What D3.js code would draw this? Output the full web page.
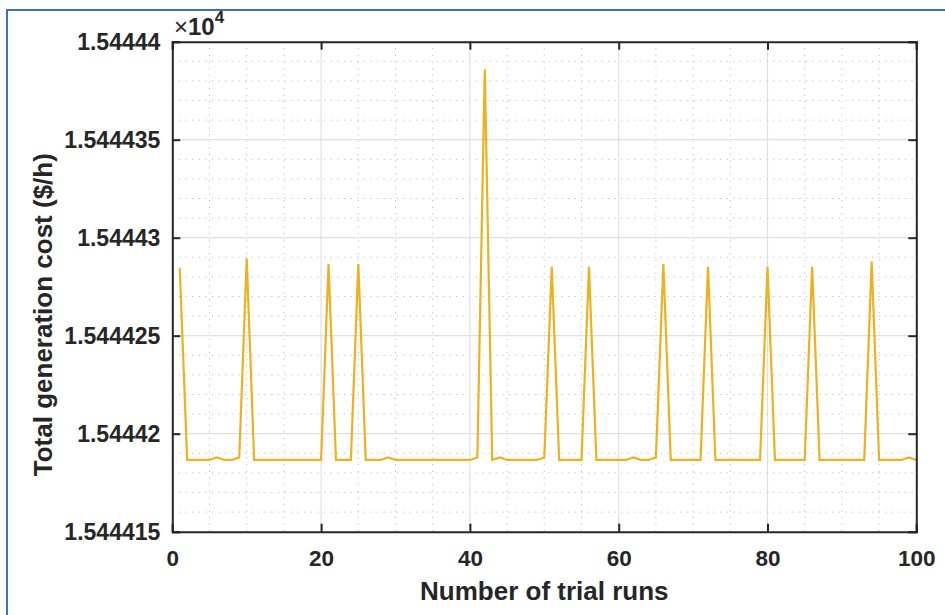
<!DOCTYPE html>
<html>
<head>
<meta charset="utf-8">
<script src="https://cdn.jsdelivr.net/npm/d3@7"></script>
<style>
  html, body { margin: 0; padding: 0; background: #fff; }
  svg { display: block; }
  text { font-family: "Liberation Sans", Arial, Helvetica, sans-serif; fill: #262626; }
</style>
</head>
<body>
<svg id="chart" width="945" height="615"></svg>
<script>
// ---- data ----
const trialRuns = d3.range(1, 101);
const B = 15444.1866, S = 15444.1879;
const costValues = [
  15444.2847, B, B, B, B, S, B, B, S, 15444.2895,          // 1-10
  B, B, B, B, B, B, B, B, B, B,                              // 11-20
  15444.2866, B, B, B, 15444.2866, B, B, B, S, B,           // 21-30
  B, B, B, B, B, B, B, B, B, B,                              // 31-40
  S, 15444.3859, B, S, B, B, B, B, B, S,                     // 41-50
  15444.2852, B, B, B, B, 15444.2852, B, B, B, B,           // 51-60
  B, S, B, B, S, 15444.2866, B, B, B, B,                     // 61-70
  B, 15444.2852, B, B, B, B, B, B, B, 15444.2852,           // 71-80
  B, B, B, B, B, 15444.2852, B, B, B, B,                     // 81-90
  B, B, B, 15444.2878, B, B, B, B, S, B                      // 91-100
];
const xTicks = [0, 20, 40, 60, 80, 100];
const yTicks = [15444.15, 15444.20, 15444.25, 15444.30, 15444.35, 15444.40];
const yTickLabels = ["1.544415", "1.54442", "1.544425", "1.54443", "1.544435", "1.54444"];
const xMinorTicks = d3.range(0, 101, 5);
const yMinorTicks = d3.range(0, 26).map(i => 15444.15 + i * 0.01);

// ---- layout ----
const svg = d3.select("#chart");
const L = 172.3, R = 916.3, T = 41.7, Bt = 531.7;
const x = d3.scaleLinear().domain([0, 100]).range([L, R]);
const y = d3.scaleLinear().domain([15444.15, 15444.40]).range([Bt, T]);

// outer frame (blue)
svg.append("rect").attr("x", 7).attr("y", 10).attr("width", 960).attr("height", 640)
  .attr("fill", "none").attr("stroke", "#3b73b6").attr("stroke-width", 2);

// minor grid
const g = svg.append("g");
g.selectAll(".mx").data(xMinorTicks.filter(v => v % 20 !== 0)).join("line")
  .attr("x1", d => x(d)).attr("x2", d => x(d)).attr("y1", T).attr("y2", Bt)
  .attr("stroke", "#bdbdbd").attr("stroke-width", 1).attr("stroke-dasharray", "1.2,5.4");
g.selectAll(".my").data(yMinorTicks.filter((v, i) => i % 5 !== 0)).join("line")
  .attr("y1", d => y(d)).attr("y2", d => y(d)).attr("x1", L).attr("x2", R)
  .attr("stroke", "#bdbdbd").attr("stroke-width", 1).attr("stroke-dasharray", "1.2,5.4");
// major grid
g.selectAll(".gx").data(xTicks.slice(1, -1)).join("line")
  .attr("x1", d => x(d)).attr("x2", d => x(d)).attr("y1", T).attr("y2", Bt)
  .attr("stroke", "#e0e0e0").attr("stroke-width", 1.2);
g.selectAll(".gy").data(yTicks.slice(1, -1)).join("line")
  .attr("y1", d => y(d)).attr("y2", d => y(d)).attr("x1", L).attr("x2", R)
  .attr("stroke", "#e0e0e0").attr("stroke-width", 1.2);

// data line
const line = d3.line().x((d, i) => x(trialRuns[i])).y(d => y(d));
svg.append("path").datum(costValues).attr("d", line)
  .attr("fill", "none").attr("stroke", "#EDB120").attr("stroke-width", 2.2)
  .attr("stroke-linejoin", "miter");

// axes (ticks inward)
const tickLen = 8;
const fmtY = d => yTickLabels[yTicks.indexOf(d)];
const axB = d3.axisBottom(x).tickValues(xTicks).tickSize(-tickLen).tickPadding(tickLen + 10);
const axT = d3.axisTop(x).tickValues(xTicks).tickSize(-tickLen).tickFormat("");
const axL = d3.axisLeft(y).tickValues(yTicks).tickSize(-tickLen).tickPadding(tickLen + 4).tickFormat(fmtY);
const axR = d3.axisRight(y).tickValues(yTicks).tickSize(-tickLen).tickFormat("");

function style(sel, size) {
  sel.select(".domain").attr("stroke", "#262626").attr("stroke-width", 2);
  sel.selectAll(".tick line").attr("stroke", "#262626").attr("stroke-width", 2);
  sel.selectAll(".tick text").attr("fill", "#262626").style("font-size", size + "px")
    .style("font-weight", "bold").style("font-family", '"Liberation Sans", Arial, sans-serif');
}
svg.append("g").attr("transform", `translate(0,${Bt})`).call(axB).call(style, 22.5);
svg.append("g").attr("transform", `translate(0,${T})`).call(axT).call(style, 22.5);
svg.append("g").attr("transform", `translate(${L},0)`).call(axL).call(style, 23);
svg.append("g").attr("transform", `translate(${R},0)`).call(axR).call(style, 22.5);

// exponent label
const ex = svg.append("text").attr("x", 174).attr("y", 35)
  .style("font-size", "24px").style("font-weight", "bold");
ex.append("tspan").style("font-weight", "normal").text("×");
ex.append("tspan").text("10");
ex.append("tspan").attr("dy", -12).style("font-size", "17px").text("4");

// axis labels
svg.append("text").attr("x", (L + R) / 2).attr("y", 600).attr("text-anchor", "middle")
  .style("font-size", "26px").style("font-weight", "bold").text("Number of trial runs");
svg.append("text").attr("transform", `translate(52,${(T + Bt) / 2 + 28}) rotate(-90)`)
  .attr("text-anchor", "middle")
  .style("font-size", "26px").style("font-weight", "bold").text("Total generation cost ($/h)");
</script>
</body>
</html>
